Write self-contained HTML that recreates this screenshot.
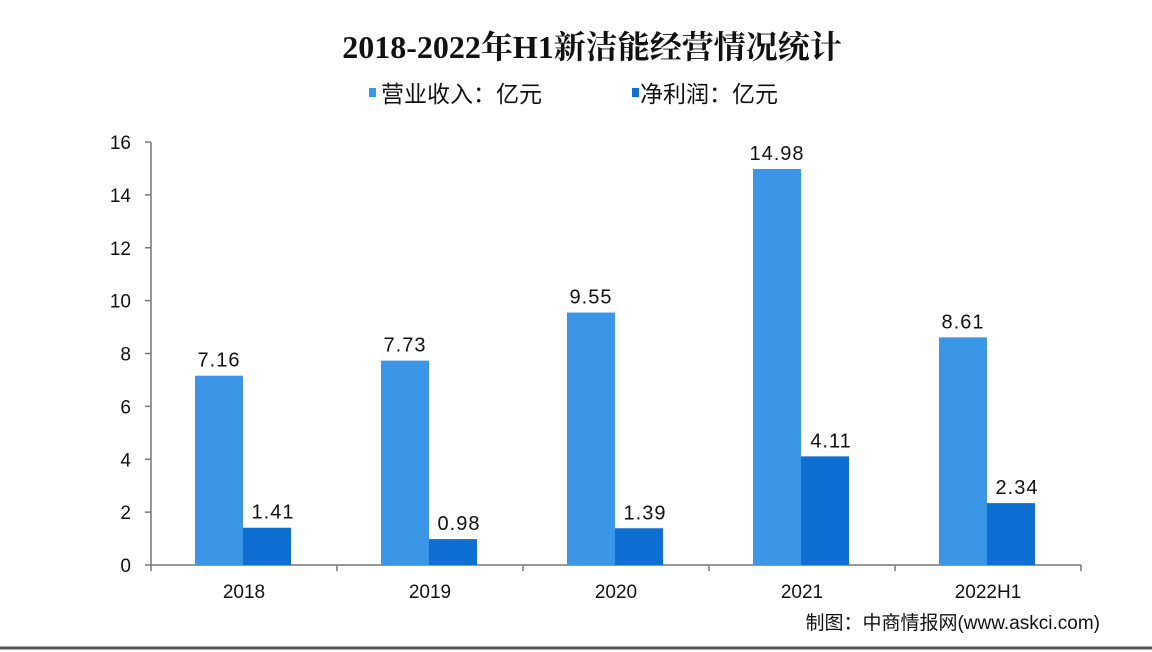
<!DOCTYPE html>
<html><head><meta charset="utf-8"><style>
body{margin:0;background:#fff;}
svg{display:block;font-family:"Liberation Sans","Noto Sans CJK SC",sans-serif;}
</style></head><body>
<svg width="1152" height="652" id="c">
<text x="592" y="58" text-anchor="middle" font-size="32" font-weight="bold" font-family="'Liberation Serif','Noto Serif CJK SC',serif" fill="#111">2018-2022年H1新洁能经营情况统计</text>
<g>
<rect x="369" y="88" width="7" height="9" fill="#3b96e8"/>
<text x="381" y="102" font-size="23" fill="#111">营业收入：亿元</text>
<rect x="632" y="88" width="7" height="9" fill="#0d6fd1"/>
<text x="640" y="102" font-size="23" fill="#111">净利润：亿元</text>
</g>
<g id="plot"></g>
<text x="1100" y="629" text-anchor="end" font-size="19" fill="#111">制图：中商情报网(www.askci.com)</text>
<line x1="0" y1="648" x2="1152" y2="648" stroke="#555" stroke-width="3"/>
</svg>
<script>
const categories=["2018","2019","2020","2021","2022H1"];
const revenue=[7.16,7.73,9.55,14.98,8.61];
const profit=[1.41,0.98,1.39,4.11,2.34];
const yTicks=[0,2,4,6,8,10,12,14,16];
const NS="http://www.w3.org/2000/svg";
const g=document.getElementById("plot");
const x0=151,cw=186,y0=565,yTop=142,yMax=16;
const y=v=>y0-(v/yMax)*(y0-yTop);
const xc=i=>x0+cw*i;
function el(t,a,txt){const e=document.createElementNS(NS,t);for(const k in a)e.setAttribute(k,a[k]);if(txt!==undefined)e.textContent=txt;g.appendChild(e);return e;}
let e;
e=el("line",{x1:x0,y1:y0,x2:x0,y2:yTop,stroke:"#777","stroke-width":1.5});


e=el("line",{x1:x0,y1:y0,x2:x0+cw*categories.length,y2:y0,stroke:"#777","stroke-width":1.5});


yTicks.forEach(t=>{
 e=el("line",{x1:x0-6,y1:y(t),x2:x0,y2:y(t),stroke:"#777","stroke-width":1.5});
 
 
 e=el("text",{x:x0-20,y:y(t)+7,"text-anchor":"end","font-size":19,fill:"#111"},t);
 
 
});
for(let i=0;i<=categories.length;i++){
 e=el("line",{x1:xc(i),y1:y0,x2:xc(i),y2:y0+6,stroke:"#777","stroke-width":1.5});
 
 
}
categories.forEach((c,i)=>{
 const bx=xc(i)+44,bw=48;
 e=el("rect",{x:bx,y:y(revenue[i]),width:bw,height:y0-y(revenue[i]),fill:"#3b96e8"});
 
 
 e=el("rect",{x:bx+bw,y:y(profit[i]),width:bw,height:y0-y(profit[i]),fill:"#0d6fd1"});
 
 
 e=el("text",{x:bx+bw/2,y:y(revenue[i])-9,"text-anchor":"middle","font-size":20,fill:"#111","letter-spacing":"1"},revenue[i].toFixed(2));
 
 
 e=el("text",{x:bx+bw*1.5+6,y:y(profit[i])-9,"text-anchor":"middle","font-size":20,fill:"#111","letter-spacing":"1"},profit[i].toFixed(2));
 
 
 e=el("text",{x:xc(i)+cw/2,y:y0+33,"text-anchor":"middle","font-size":19,fill:"#111"},c);
 
 
});
</script>
</body></html>
